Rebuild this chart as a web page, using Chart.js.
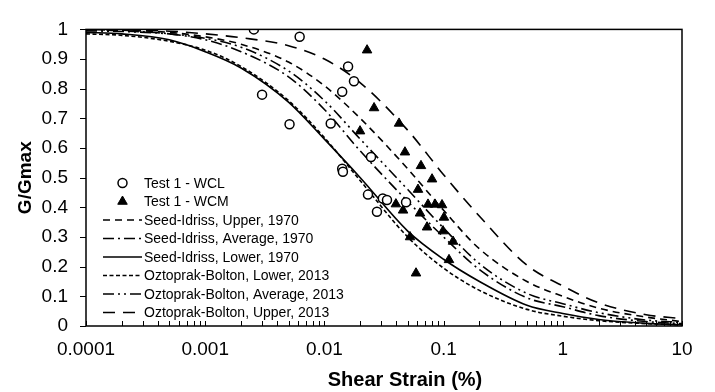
<!DOCTYPE html>
<html>
<head>
<meta charset="utf-8">
<title>G/Gmax vs Shear Strain</title>
<script src="https://cdn.jsdelivr.net/npm/chart.js@4.4.0/dist/chart.umd.min.js"></script>
<style>
    html, body { margin: 0; padding: 0; background: #ffffff; }
    #wrap { width: 715px; height: 392px; }
</style>
</head>
<body>
<div id="wrap"><canvas id="chart" width="715" height="392"></canvas></div>
<script>
// Test 1 - WCL (open circles)
const wclStrain = [0.00256, 0.0062, 0.0030, 0.0051, 0.0113, 0.0158, 0.0177, 0.0141, 0.0141, 0.0143, 0.0246, 0.0232, 0.0276, 0.0309, 0.0335, 0.0484];
const wclRatio  = [1.0, 0.975, 0.78, 0.68, 0.683, 0.875, 0.825, 0.79, 0.53, 0.52, 0.57, 0.443, 0.385, 0.43, 0.425, 0.417];

// Test 1 - WCM (filled triangles)
const wcmStrain = [0.0228, 0.0261, 0.0423, 0.0199, 0.0474, 0.0646, 0.080, 0.061, 0.0398, 0.0457, 0.0634, 0.074, 0.0847, 0.097, 0.1007, 0.0726, 0.0989, 0.0523, 0.12, 0.111, 0.0587];
const wcmRatio  = [0.93, 0.735, 0.683, 0.657, 0.586, 0.54, 0.495, 0.46, 0.411, 0.39, 0.38, 0.41, 0.41, 0.408, 0.366, 0.333, 0.32, 0.30, 0.285, 0.223, 0.178];

const curveStrain = [0.0001, 0.0002, 0.0005, 0.001, 0.002, 0.005, 0.01, 0.02, 0.05, 0.1, 0.2, 0.5, 1, 2, 5, 10];
const siUpper   = [1.0, 0.997, 0.99, 0.975, 0.95, 0.89, 0.81, 0.70, 0.53, 0.39, 0.26, 0.15, 0.10, 0.06, 0.03, 0.015];
const siAverage = [1.0, 0.995, 0.985, 0.965, 0.925, 0.84, 0.73, 0.59, 0.42, 0.30, 0.19, 0.095, 0.065, 0.035, 0.015, 0.008];
const siLower   = [0.99, 0.985, 0.965, 0.925, 0.87, 0.755, 0.63, 0.50, 0.32, 0.225, 0.15, 0.07, 0.042, 0.022, 0.009, 0.004];
const obLower   = [0.985, 0.98, 0.96, 0.93, 0.875, 0.76, 0.635, 0.49, 0.30, 0.195, 0.12, 0.056, 0.033, 0.018, 0.008, 0.004];
const obAverage = [0.995, 0.993, 0.985, 0.97, 0.94, 0.86, 0.76, 0.63, 0.46, 0.33, 0.21, 0.11, 0.075, 0.045, 0.02, 0.012];
const obUpper   = [1.0, 0.998, 0.994, 0.985, 0.972, 0.945, 0.90, 0.82, 0.66, 0.51, 0.37, 0.205, 0.135, 0.078, 0.038, 0.025];

// Axis ticks
const xTickValues = [0.0001, 0.001, 0.01, 0.1, 1, 10];
const yTickValues = [0, 0.1, 0.2, 0.3, 0.4, 0.5, 0.6, 0.7, 0.8, 0.9, 1];

const FONT = "'Liberation Sans', Arial, sans-serif";

function toPoints(xs, ys) {
    return xs.map((x, i) => ({ x: x, y: ys[i] }));
}

function curve(label, values, dash) {
    return {
        label: label,
        data: toPoints(curveStrain, values),
        showLine: true,
        borderColor: '#000000',
        borderWidth: 1.6,
        borderDash: dash,
        pointRadius: 0,
        cubicInterpolationMode: 'monotone',
        fill: false
    };
}

// Legend drawn inside the plot, lower left
const insideLegend = {
    id: 'insideLegend',
    afterDatasetsDraw(chart) {
        const ctx = chart.ctx;
        const area = chart.chartArea;
        const x0 = area.left + 17;
        const x1 = area.left + 56;
        let y = 183;
        ctx.save();
        ctx.font = '14px ' + FONT;
        ctx.textBaseline = 'middle';
        chart.data.datasets.forEach(ds => {
            if (ds.showLine) {
                ctx.strokeStyle = ds.borderColor;
                ctx.lineWidth = ds.borderWidth;
                ctx.setLineDash(ds.borderDash || []);
                ctx.beginPath();
                ctx.moveTo(x0, y);
                ctx.lineTo(x1, y);
                ctx.stroke();
                ctx.setLineDash([]);
            } else {
                ctx.fillStyle = ds.backgroundColor;
                ctx.strokeStyle = ds.borderColor;
                ctx.lineWidth = ds.borderWidth;
                Chart.helpers.drawPoint(ctx, {
                    pointStyle: ds.pointStyle,
                    radius: ds.pointRadius,
                    rotation: 0,
                    borderWidth: ds.borderWidth
                }, (x0 + x1) / 2, y);
            }
            ctx.fillStyle = '#000000';
            ctx.fillText(ds.label, x1 + 2, y + 1);
            y += 18.5;
        });
        ctx.restore();
    }
};

// Frame, small inward ticks on x, outward ticks on y, x title
const frameAndTicks = {
    id: 'frameAndTicks',
    afterDraw(chart) {
        const ctx = chart.ctx;
        const area = chart.chartArea;
        const xs = chart.scales.x;
        const ys = chart.scales.y;
        ctx.save();
        ctx.strokeStyle = '#000000';
        ctx.lineWidth = 1.5;
        ctx.strokeRect(area.left, area.top, area.right - area.left, area.bottom - area.top);

        ctx.lineWidth = 1;
        ctx.beginPath();
        for (let d = -4; d <= 1; d++) {
            for (let m = 1; m <= 9; m++) {
                const v = m * Math.pow(10, d);
                if (v > 10) break;
                const px = Math.round(xs.getPixelForValue(v)) + 0.5;
                ctx.moveTo(px, area.bottom);
                ctx.lineTo(px, area.bottom - 5);
            }
        }
        yTickValues.forEach(v => {
            const py = Math.round(ys.getPixelForValue(v)) + 0.5;
            ctx.moveTo(area.left - 6, py);
            ctx.lineTo(area.left, py);
        });
        ctx.stroke();

        ctx.fillStyle = '#000000';
        ctx.font = 'bold 20px ' + FONT;
        ctx.textAlign = 'center';
        ctx.textBaseline = 'middle';
        ctx.fillText('Shear Strain (%)', 405, 380);
        ctx.restore();
    }
};

const ctx = document.getElementById('chart').getContext('2d');
const chart = new Chart(ctx, {
    type: 'scatter',
    data: {
        datasets: [
            {
                label: 'Test 1 - WCL',
                data: toPoints(wclStrain, wclRatio),
                pointStyle: 'circle',
                pointRadius: 4.5,
                borderWidth: 1.5,
                borderColor: '#000000',
                backgroundColor: '#ffffff'
            },
            {
                label: 'Test 1 - WCM',
                data: toPoints(wcmStrain, wcmRatio),
                pointStyle: 'triangle',
                pointRadius: 5.5,
                borderWidth: 1,
                borderColor: '#000000',
                backgroundColor: '#000000'
            },
            curve('Seed-Idriss, Upper, 1970', siUpper, [7, 5]),
            curve('Seed-Idriss, Average, 1970', siAverage, [11, 4, 2, 4]),
            curve('Seed-Idriss, Lower, 1970', siLower, []),
            curve('Oztoprak-Bolton, Lower, 2013', obLower, [4, 2.5]),
            curve('Oztoprak-Bolton, Average, 2013', obAverage, [11, 4, 2, 4, 2, 4]),
            curve('Oztoprak-Bolton, Upper, 2013', obUpper, [12, 8])
        ]
    },
    options: {
        responsive: false,
        animation: false,
        devicePixelRatio: 1,
        layout: { padding: { top: 17, right: 33, left: 0, bottom: 0 } },
        plugins: {
            legend: { display: false },
            tooltip: { enabled: false }
        },
        scales: {
            x: {
                type: 'logarithmic',
                min: 0.0001,
                max: 10,
                afterBuildTicks: scale => {
                    scale.ticks = xTickValues.map(v => ({ value: v }));
                },
                afterFit: scale => { scale.height = 66; },
                grid: { display: false, drawTicks: false },
                border: { display: false },
                ticks: {
                    color: '#000000',
                    font: { family: FONT, size: 19 },
                    padding: 12,
                    maxRotation: 0,
                    callback: value => String(value)
                }
            },
            y: {
                min: 0,
                max: 1,
                afterBuildTicks: scale => {
                    scale.ticks = yTickValues.map(v => ({ value: v }));
                },
                afterFit: scale => { scale.width = 86; },
                grid: { display: false, drawTicks: false },
                border: { display: false },
                ticks: {
                    color: '#000000',
                    font: { family: FONT, size: 19 },
                    padding: 18,
                    callback: value => String(Number(value.toFixed(1)))
                },
                title: {
                    display: true,
                    text: 'G/Gmax',
                    color: '#000000',
                    font: { family: FONT, size: 19, weight: 'bold' },
                    padding: { top: 14, bottom: 0 }
                }
            }
        }
    },
    plugins: [insideLegend, frameAndTicks]
});
</script>
</body>
</html>
